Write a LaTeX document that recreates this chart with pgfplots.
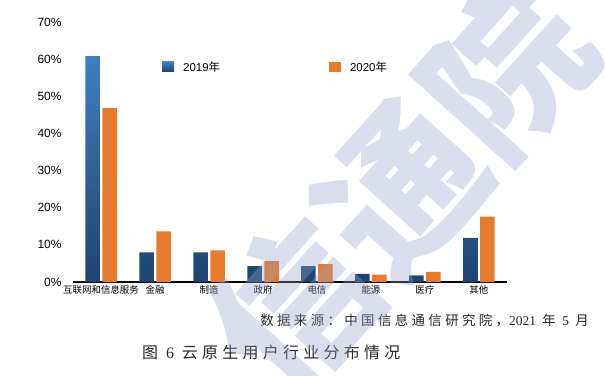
\documentclass[border=0pt]{standalone}
\usepackage{pgfplots}
\pgfplotsset{compat=1.18}
\usepackage{fontspec}
\setmainfont{Liberation Sans}
\newfontfamily\cjk{Noto Sans CJK SC}
\newfontfamily\cjks[LetterSpace=25]{Noto Sans CJK SC}
\newfontfamily\cjkc[LetterSpace=27]{Noto Sans CJK SC}
\newfontfamily\serif{Liberation Serif}
\definecolor{bluetop}{RGB}{62,126,194}
\definecolor{bluebot}{RGB}{30,68,112}
\definecolor{orangebar}{RGB}{230,123,46}
\definecolor{wm}{RGB}{150,160,200}
\begin{document}
\begin{tikzpicture}[x=1bp,y=1bp]
\useasboundingbox (0,0) rectangle (605,375);
\begin{axis}[
  at={(73bp,93bp)}, anchor=south west,
  scale only axis, width=434bp, height=260bp,
  ymin=0, ymax=70, xmin=-0.52, xmax=7.52,
  axis x line=bottom, axis y line=left,
  axis line style={-},
  y axis line style={draw=none},
  x axis line style={black, line width=1.2pt},
  major tick length=0pt,
  ytick={0,10,...,70},
  yticklabel={\pgfmathprintnumber{\tick}\%},
  /pgf/number format/assume math mode=true,
  yticklabel style={font=\fontsize{12}{14}\selectfont, xshift=-8bp},
  xtick={0,...,7},
  xticklabels={互联网和信息服务,金融,制造,政府,电信,能源,医疗,其他},
  xticklabel style={font=\cjk\fontsize{9.5}{11}\selectfont},
  ybar, bar width=14.5bp,
  clip=false,
  legend style={draw=none, fill=none, at={(0.205,0.827)}, anchor=west,
    inner xsep=0pt, inner ysep=0pt,
    legend columns=2, font=\fontsize{11.5}{13}\selectfont,
    /tikz/every even column/.append style={column sep=107bp}},
]
\addplot[draw=none, top color=bluetop, bottom color=bluebot, bar shift=-8.5bp,
  legend image code/.code={\fill[top color=bluetop, bottom color=bluebot] (0bp,-5bp) rectangle (12bp,5bp); \path (19bp,0bp);}]
  coordinates {(0,60.8) (1,8.0) (2,8.0) (3,4.3) (4,4.3) (5,2.2) (6,1.8) (7,11.9)};
\addlegendentry{2019{\cjk 年}}
\addplot[draw=none, fill=orangebar, bar shift=8.5bp,
  legend image code/.code={\fill[orangebar] (0bp,-5bp) rectangle (12bp,5bp); \path (19bp,0bp);}]
  coordinates {(0,46.8) (1,13.6) (2,8.5) (3,5.6) (4,4.8) (5,2.0) (6,2.7) (7,17.6)};
\addlegendentry{2020{\cjk 年}}
\end{axis}
\node[anchor=east, inner sep=0pt, text=black!85, font=\cjks\fontsize{13.5}{15}\selectfont] at (589,55)
  {数据来源：中国信息通信研究院，{\serif 2021} 年 {\serif 5} 月};
\node[anchor=west, inner sep=0pt, text=black!85, font=\cjkc\fontsize{16}{18}\selectfont] at (142,23)
  {图 {\serif 6} 云原生用户行业分布情况};
\begin{scope}
\clip (0,0) rectangle (605,375);
\node[overlay, rotate=48, opacity=0.35, text=wm, font=\cjk\bfseries\fontsize{160}{160}\selectfont] at (400,187) {信通院};
\end{scope}
\end{tikzpicture}
\end{document}
